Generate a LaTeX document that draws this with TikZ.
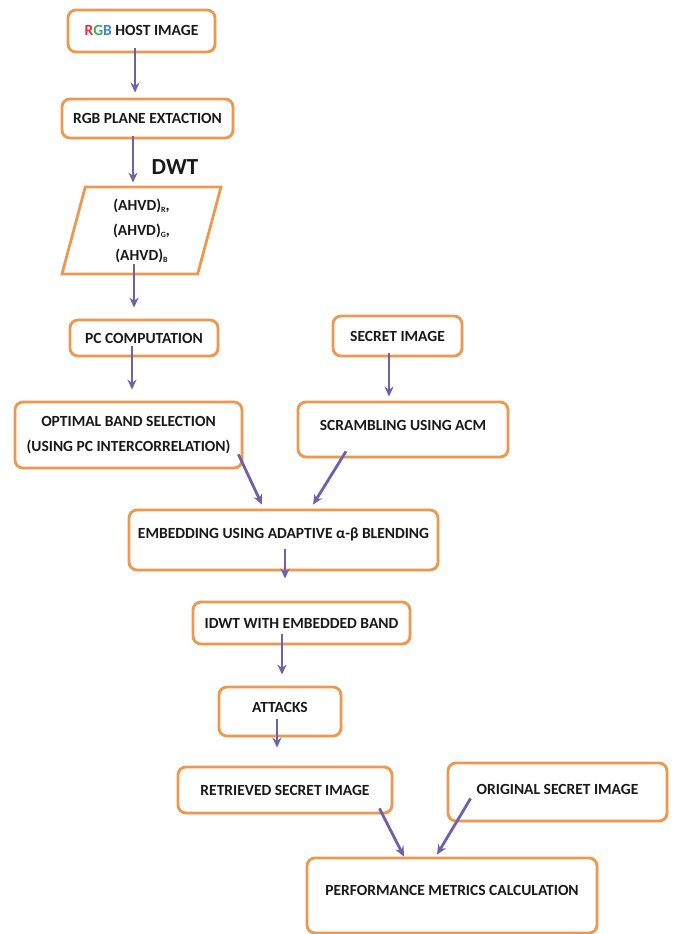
\documentclass[tikz,border=0pt]{standalone}
\usepackage{fontspec}
\setmainfont{Carlito}
\usetikzlibrary{shapes.geometric,arrows.meta,shadows}
\definecolor{boxorange}{RGB}{238,152,78}
\definecolor{flowpurple}{RGB}{112,96,168}
\definecolor{rgbred}{RGB}{220,50,60}
\definecolor{rgbgreen}{RGB}{60,170,90}
\definecolor{rgbblue}{RGB}{60,130,210}
\newcommand{\band}[1]{\raisebox{-2.5pt}{\fontsize{8}{8}\selectfont #1}}

\begin{document}
\begin{tikzpicture}
    [x=1pt, y=-1pt,
      every node/.style={font=\fontsize{15.5}{25}\selectfont\bfseries, text=black!90},
      block/.style={rectangle, rounded corners=8pt, draw=boxorange, line width=2.8pt,
        fill=white, inner sep=0pt, align=center, text height=10pt, text depth=0pt,
        drop shadow={shadow xshift=1.5pt, shadow yshift=-1.5pt, opacity=.18}},
      raised/.style={text depth=#1},  % pushes the text towards the top edge
      band/.style={trapezium, trapezium left angle=70, trapezium right angle=110,
        trapezium stretches body, draw=boxorange, line width=2.8pt, inner sep=0pt, align=center},
      flow/.style={draw=flowpurple, line width=2.8pt, -{Stealth[length=10pt,width=9pt]}},
     ]
    \useasboundingbox (0,0) rectangle (684,934);

    \node[block, minimum width=147, minimum height=42] (host) at (141.5,31)
      {\textcolor{rgbred}{R}\textcolor{rgbgreen}{G}\textcolor{rgbblue}{B} HOST IMAGE};
    \node[block, minimum width=171, minimum height=39] (plane) at (147.5,118.5) {RGB PLANE EXTACTION};
    \node[font=\fontsize{23}{25}\selectfont\bfseries] (dwt) at (175,167) {DWT};
    \node[band, minimum width=159, minimum height=87] (bands) at (141.5,230.5)
      {(AHVD)\band{R},\\(AHVD)\band{G},\\(AHVD)\band{B}};
    \node[block, minimum width=148, minimum height=36] (pc) at (144,338) {PC COMPUTATION};
    \node[block, minimum width=227, minimum height=66, text height=, text depth=] (select) at (128.5,435)
      {OPTIMAL BAND SELECTION\\(USING PC INTERCORRELATION)};
    \node[block, minimum width=129, minimum height=40] (secret) at (397.5,336) {SECRET IMAGE};
    \node[block, raised=9pt, minimum width=210, minimum height=55] (scramble) at (403,429.5) {SCRAMBLING USING ACM};
    \node[block, raised=14pt, minimum width=309, minimum height=60] (embed) at (283.5,540)
      {EMBEDDING USING ADAPTIVE α-β BLENDING};
    \node[block, minimum width=217, minimum height=42] (idwt) at (301.5,623) {IDWT WITH EMBEDDED BAND};
    \node[block, raised=9pt, minimum width=122, minimum height=49] (attacks) at (280,711.5) {ATTACKS};
    \node[block, minimum width=214, minimum height=46] (retrieved) at (285,790) {RETRIEVED SECRET IMAGE};
    \node[block, raised=6pt, minimum width=219, minimum height=58] (original) at (557.5,792) {ORIGINAL SECRET IMAGE};
    \node[block, raised=11pt, minimum width=290, minimum height=75] (metrics) at (452,895.5)
      {PERFORMANCE METRICS CALCULATION};

    \draw[flow] ([xshift=-6.5pt,yshift=5pt]host.south) -- ([xshift=-6.5pt,yshift=5pt]host.south |- plane.north);
    \draw[flow] ([xshift=-14.5pt,yshift=3pt]plane.south) -- ([xshift=-14.5pt,yshift=3pt]plane.south |- bands.north);
    \draw[flow] ([xshift=-7.5pt,yshift=11pt]bands.south) -- ([xshift=-7.5pt,yshift=11pt]bands.south |- pc.north);
    \draw[flow] ([xshift=-12pt,yshift=11pt]pc.south) -- ([xshift=-12pt,yshift=11pt]pc.south |- select.north);
    \draw[flow] ([xshift=-8.5pt,yshift=4pt]secret.south) -- ([xshift=-8.5pt,yshift=4pt]secret.south |- scramble.north);
    \draw[flow] ([xshift=-5pt,yshift=15pt]select.south east) -- ([xshift=-21.5pt,yshift=4pt]embed.north);
    \draw[flow] ([xshift=-57pt,yshift=7pt]scramble.south) -- ([xshift=29.5pt,yshift=4pt]embed.north);
    \draw[flow] ([xshift=1.5pt,yshift=22pt]embed.south) -- ([xshift=1.5pt,yshift=22pt]embed.south |- idwt.north);
    \draw[flow] ([xshift=-19.5pt,yshift=11pt]idwt.south) -- ([xshift=-19.5pt,yshift=11pt]idwt.south |- attacks.north);
    \draw[flow] ([xshift=-3pt,yshift=18pt]attacks.south) -- ([xshift=-3pt,yshift=18pt]attacks.south |- retrieved.north);
    \draw[flow] ([xshift=-14pt,yshift=6pt]retrieved.south east) -- ([xshift=-48pt]metrics.north);
    \draw[flow] ([xshift=24pt,yshift=24pt]original.south west) -- ([xshift=-15pt,yshift=2pt]metrics.north);
\end{tikzpicture}
\end{document}
